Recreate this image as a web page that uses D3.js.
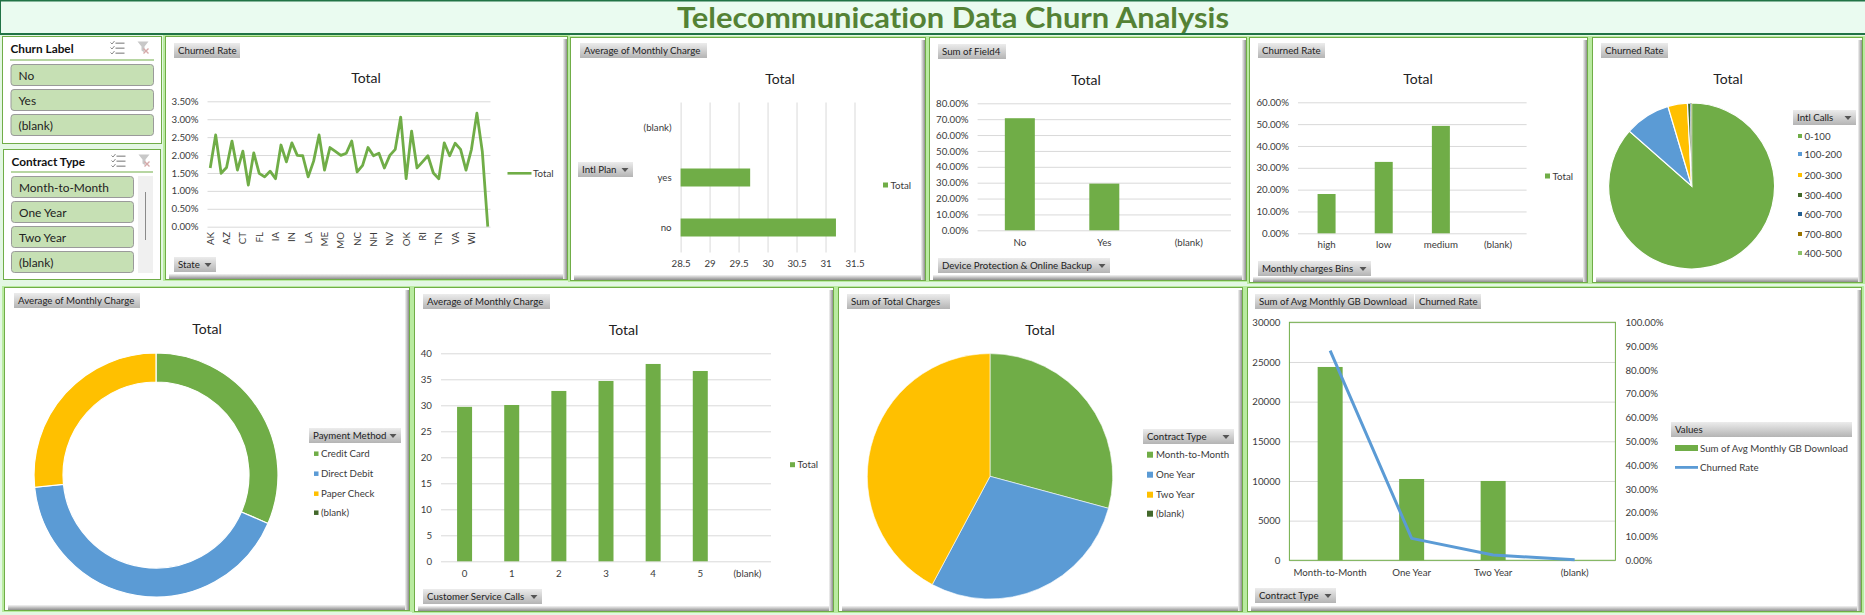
<!DOCTYPE html>
<html><head><meta charset="utf-8">
<style>
html,body{margin:0;padding:0;background:#E3F7E3;overflow:hidden}
svg{display:block}
text{font-family:Lato,"Open Sans",sans-serif;fill:#333;font-variant-ligatures:none}
</style>
<script src="https://cdn.jsdelivr.net/npm/d3@7/dist/d3.min.js"></script>
</head><body><svg id="c" width="1865" height="615"></svg>
<script>
const dashTitle = "Telecommunication Data Churn Analysis";
const churnLabels = ["No","Yes","(blank)"];
const contractSlicer = ["Month-to-Month","One Year","Two Year","(blank)"];

const states = ["AK","AL","AR","AZ","CA","CO","CT","DC","DE","FL","GA","HI","IA","ID","IL","IN","KS","KY","LA","MA","MD","ME","MI","MN","MO","MS","MT","NC","ND","NE","NH","NJ","NM","NV","NY","OH","OK","OR","PA","RI","SC","SD","TN","TX","UT","VA","VT","WA","WI","WV","WY","(blank)"];
const stateRate = [1.64,2.56,1.49,1.65,2.39,1.58,2.11,1.16,2.06,1.49,1.39,1.55,1.34,2.28,1.81,2.34,1.99,1.98,1.39,1.83,2.56,1.58,2.21,2.10,1.99,2.05,2.39,1.53,1.71,2.21,1.98,2.05,1.64,1.99,2.16,3.06,1.34,2.67,1.64,1.81,1.98,1.50,1.34,2.34,1.98,2.33,2.16,1.58,2.16,3.17,2.09,0];
const stateTickLabels = ["AK","AZ","CT","FL","IA","IN","LA","ME","MO","NC","NH","NV","OK","RI","TN","VA","WI"];
const rateTicks = [0,0.5,1,1.5,2,2.5,3,3.5];

const intlPlans = ["(blank)","yes","no"];
const intlPlanCharge = [null,29.70,31.18];
const chargeTicks = [28.5,29,29.5,30,30.5,31,31.5];

const deviceCats = ["No","Yes","(blank)"];
const deviceVals = [70.6,29.4,null];
const deviceTicks = [0,10,20,30,40,50,60,70,80];

const binCats = ["high","low","medium","(blank)"];
const binVals = [18.0,32.7,49.2,null];
const binTicks = [0,10,20,30,40,50,60];

const intlCalls = ["0-100","100-200","200-300","300-400","600-700","700-800","400-500"];
const intlCallVals = [86.5,8.9,3.8,0.6,0.08,0.06,0.06];
const intlCallColors = ["#70AD47","#5B9BD5","#FFC000","#43682B","#255E91","#997300","#8CC168"];

const payMethods = ["Credit Card","Direct Debit","Paper Check","(blank)"];
const payVals = [31.5,41.9,26.6,0];
const contractNames = ["Month-to-Month","One Year","Two Year","(blank)"];
const contractCharges = [29.2,28.6,42.2,0];
const pieColors = ["#70AD47","#5B9BD5","#FFC000","#43682B"];

const serviceCalls = ["0","1","2","3","4","5","(blank)"];
const serviceVals = [29.7,30.06,32.76,34.68,37.95,36.6,null];
const serviceTicks = [0,5,10,15,20,25,30,35,40];

const comboCats = ["Month-to-Month","One Year","Two Year","(blank)"];
const comboGB = [24370,10250,10000,null];
const comboRate = [88.1,9.2,2.2,0.2];
const gbTicks = [0,5000,10000,15000,20000,25000,30000];
const pctTicks = [0,10,20,30,40,50,60,70,80,90,100];

const GREEN="#70AD47", BLUE="#5B9BD5", GRID="#D9D9D9", TICK="#3a3a3a", FS=9.7;
const svg=d3.select("#c");
const defs=svg.append("defs");
function grad(id,a,b,h){const g=defs.append("linearGradient").attr("id",id);
  if(h)g.attr("x1",0).attr("x2",1).attr("y1",0).attr("y2",0);else g.attr("x1",0).attr("x2",0).attr("y1",0).attr("y2",1);
  g.append("stop").attr("offset",0).attr("stop-color",a);g.append("stop").attr("offset",1).attr("stop-color",b);}
grad("btn","#ECECEC","#B4B4B4");
grad("shB","#F4F4F4","#8E8E8E");
grad("shR","#F4F4F4","#8E8E8E",true);

// title bar
svg.append("rect").attr("x",0).attr("y",0).attr("width",1865).attr("height",34).attr("fill","#EAFBF0");
svg.append("rect").attr("x",0).attr("y",0).attr("width",1865).attr("height",1.5).attr("fill","#217346");
svg.append("rect").attr("x",0).attr("y",0).attr("width",1).attr("height",34).attr("fill","#217346");
svg.append("rect").attr("x",0).attr("y",33).attr("width",1865).attr("height",2).attr("fill","#217346");
svg.append("text").attr("x",953).attr("y",28).attr("text-anchor","middle").attr("font-size",28).attr("font-weight",700)
  .attr("textLength",552).attr("lengthAdjust","spacingAndGlyphs")
  .style("fill","#548235").text(dashTitle);

function panel(x0,y0,x1,y1){
  const g=svg.append("g");
  g.append("rect").attr("x",x0-2).attr("y",y0-1).attr("width",x1-x0+4).attr("height",y1-y0+2).attr("fill","#B9EBA0");
  g.append("rect").attr("x",x0+.5).attr("y",y0+.5).attr("width",x1-x0-1).attr("height",y1-y0-1).attr("fill","#fff").attr("stroke",GREEN);
  g.append("rect").attr("x",x0+4).attr("y",y1-6).attr("width",x1-x0-5).attr("height",5).attr("fill","url(#shB)");
  g.append("rect").attr("x",x1-5).attr("y",y0+3).attr("width",4).attr("height",y1-y0-4).attr("fill","url(#shR)");
  return g;
}
function btn(x0,y0,x1,label,arrow){
  const g=svg.append("g");
  g.append("rect").attr("x",x0).attr("y",y0).attr("width",x1-x0).attr("height",15).attr("fill","url(#btn)");
  g.append("text").attr("x",x0+4).attr("y",y0+11.2).attr("font-size",FS).style("fill","#222").text(label);
  if(arrow){const c=x1-8;g.append("path").attr("d",`M${c-3.5},${y0+6}h7l-3.5,4z`).attr("fill","#555");}
}
function chartTitle(x,y){svg.append("text").attr("x",x).attr("y",y+5).attr("text-anchor","middle").attr("font-size",14).style("fill","#222").text("Total");}
function legendRow(x,y,label,color,s=5){
  svg.append("rect").attr("x",x).attr("y",y-s/2).attr("width",s).attr("height",s).attr("fill",color);
  svg.append("text").attr("x",x+s+(s>=6?3:2.5)).attr("y",y+3.5).attr("font-size",FS).style("fill",TICK).text(label);
}
function styleAxis(a,fs=FS){
  a.select(".domain").remove();
  a.selectAll(".tick line").attr("stroke",GRID).attr("stroke-width",1);
  a.selectAll("text").attr("font-size",fs).style("fill",TICK).style("font-family","Lato,sans-serif");
}
function valueGrid(x0,x1,y,ticks,fmt){
  const a=svg.append("g").attr("transform",`translate(${x0},0)`).call(d3.axisLeft(y).tickValues(ticks).tickFormat(fmt).tickSize(-(x1-x0)).tickPadding(9));
  styleAxis(a);return a;
}
function catLabels(band,yPos,cats){
  const a=svg.append("g").attr("transform",`translate(0,${yPos})`).call(d3.axisBottom(band).tickValues(cats).tickSize(0).tickPadding(0));
  styleAxis(a);return a;
}
function columnChart(cats,vals,band,y,w){
  svg.append("g").selectAll("rect").data(cats.map((c,i)=>({c,v:vals[i]})).filter(d=>d.v!=null)).join("rect")
    .attr("x",d=>band(d.c)+band.bandwidth()/2-w/2).attr("width",w)
    .attr("y",d=>y(d.v)).attr("height",d=>y(0)-y(d.v)).attr("fill",GREEN);
}
const pct=d=>d3.format(".2f")(d)+"%";

// slicers
function slicer(x0,y0,x1,y1,title,items,bx0,bx1,by,ux0,ux1,uy,tx,ty){
  const g=svg.append("g");
  g.append("rect").attr("x",x0+.5).attr("y",y0+.5).attr("width",x1-x0-1).attr("height",y1-y0-1).attr("fill","#fff").attr("stroke",GREEN).attr("stroke-width",1);
  g.append("text").attr("x",tx).attr("y",ty).attr("font-size",11.8).attr("font-weight",700).style("fill","#111").text(title);
  g.append("rect").attr("x",ux0).attr("y",uy).attr("width",ux1-ux0).attr("height",1).attr("fill",GREEN);
  items.forEach((t,i)=>{
    g.append("rect").attr("x",bx0+.5).attr("y",by+i*25+.5).attr("width",bx1-bx0).attr("height",21).attr("rx",3).attr("fill","#C6E0B4").attr("stroke","#9a9a9a");
    g.append("text").attr("x",bx0+8).attr("y",by+i*25+15.5).attr("font-size",11.9).style("fill","#222").text(t);
  });
  // multi-select icon
  const ix=tx+100, iy=ty-11;
  [0,5,10].forEach(d=>{
    g.append("rect").attr("x",ix+5).attr("y",iy+d+1).attr("width",9).attr("height",1.4).attr("fill","#9b9b9b");
    g.append("path").attr("d",`M${ix},${iy+d+1}l1.5,1.5l2.5,-3`).attr("fill","none").attr("stroke","#8a8a8a");
  });
  // clear filter icon
  const fx=tx+127;
  g.append("path").attr("d",`M${fx},${iy}h11l-4,5v6l-3,-2v-4z`).attr("fill","#c8c8c8");
  g.append("path").attr("d",`M${fx+6},${iy+7}l5,5m0,-5l-5,5`).attr("stroke","#d5a9a9").attr("stroke-width",1.4);
}
slicer(2,36,162,144,"Churn Label",churnLabels,10.5,153,64,10,154,59.5,10.5,52.5);
slicer(3,149,161,280,"Contract Type",contractSlicer,11,133,176,11,153,171.5,11.5,165.5);
svg.append("rect").attr("x",138).attr("y",176).attr("width",15).attr("height",97).attr("fill","#F0F0F0");
svg.append("rect").attr("x",145).attr("y",192).attr("width",1).attr("height",48).attr("fill","#8a8a8a");

// Chart 1: churn by state
panel(165,36,568,280);
btn(174,43,240,"Churned Rate");
chartTitle(366,78);
{
  const x=d3.scaleBand().domain(states).range([207.5,490.5]);
  const y=d3.scaleLinear().domain([0,3.5]).range([226.7,101.3]);
  valueGrid(207.5,490.5,y,rateTicks,pct);
  const a=svg.append("g").attr("transform","translate(0,232)").call(d3.axisBottom(x).tickValues(stateTickLabels).tickSize(0).tickPadding(0));
  styleAxis(a);
  a.selectAll("text").attr("transform","rotate(-90)").attr("text-anchor","end").attr("x",0).attr("y",0).attr("dy","0.35em");
  svg.append("path").datum(states.map((s,i)=>[s,stateRate[i]]))
    .attr("fill","none").attr("stroke",GREEN).attr("stroke-width",2.8).attr("stroke-linejoin","round")
    .attr("d",d3.line().x(d=>x(d[0])+x.bandwidth()/2).y(d=>y(d[1])));
  svg.append("rect").attr("x",507.5).attr("y",172).attr("width",24).attr("height",2.6).attr("fill",GREEN);
  svg.append("text").attr("x",533).attr("y",176.5).attr("font-size",FS).style("fill",TICK).text("Total");
  btn(174,257,216,"State",true);
}

// Chart 2: Intl plan
panel(570,37,926,281);
btn(580,43,707,"Average of Monthly Charge");
chartTitle(780,79);
{
  const x=d3.scaleLinear().domain([28.5,31.5]).range([680.6,854.5]);
  const y=d3.scaleBand().domain(intlPlans).range([102.5,252.5]);
  const a=svg.append("g").attr("transform","translate(0,252.5)").call(d3.axisBottom(x).tickValues(chargeTicks).tickFormat(d=>d).tickSize(-150).tickPadding(7.5));
  styleAxis(a);
  const b=svg.append("g").attr("transform","translate(680.6,0)").call(d3.axisLeft(y).tickSize(0).tickPadding(9));
  styleAxis(b);
  svg.append("g").selectAll("rect").data(intlPlans.map((c,i)=>({c,v:intlPlanCharge[i]})).filter(d=>d.v!=null)).join("rect")
    .attr("x",x(28.5)).attr("width",d=>x(d.v)-x(28.5)).attr("y",d=>y(d.c)+y.bandwidth()/2-9).attr("height",18).attr("fill",GREEN);
  btn(578,162,633,"Intl Plan",true);
  legendRow(883,185,"Total",GREEN);
}

// Chart 3: device protection
panel(929,37,1247,281);
btn(938,44,1006,"Sum of Field4");
chartTitle(1086,80);
{
  const x=d3.scaleBand().domain(deviceCats).range([977.6,1231]);
  const y=d3.scaleLinear().domain([0,80]).range([230.3,103.3]);
  valueGrid(977.6,1231,y,deviceTicks,pct);
  columnChart(deviceCats,deviceVals,x,y,30);
  catLabels(x,239,deviceCats);
  btn(938,258,1110,"Device Protection & Online Backup",true);
}

// Chart 4: monthly charges bins
panel(1249,37,1588,283);
btn(1258,43,1325,"Churned Rate");
chartTitle(1418,79);
{
  const x=d3.scaleBand().domain(binCats).range([1298,1526.6]);
  const y=d3.scaleLinear().domain([0,60]).range([233.3,102.3]);
  valueGrid(1298,1526.6,y,binTicks,pct);
  columnChart(binCats,binVals,x,y,18);
  catLabels(x,241,binCats);
  btn(1258,261,1371,"Monthly charges Bins",true);
  legendRow(1545,176,"Total",GREEN);
}

function pie(cx,cy,r,inner,vals,colors,sw){
  const arcs=d3.pie().sort(null)(vals);
  svg.append("g").attr("transform",`translate(${cx},${cy})`).selectAll("path").data(arcs).join("path")
    .attr("d",d3.arc().innerRadius(inner).outerRadius(r)).attr("fill",(d,i)=>colors[i]).attr("stroke","#fff").attr("stroke-width",d=>d.value>0.5?sw:0);
}

// Chart 5: intl calls pie
panel(1592,37,1863,283);
btn(1601,43,1668,"Churned Rate");
chartTitle(1728,79);
pie(1691.6,186,83,0,intlCallVals,intlCallColors,1.2);
btn(1793,110,1856,"Intl Calls",true);
[136,154,175,195,214,234,253].forEach((yy,i)=>legendRow(1798,yy,intlCalls[i],intlCallColors[i],4));

// Chart 6: donut
panel(4,287,410,611);
btn(14,293,140,"Average of Monthly Charge");
chartTitle(207,329);
pie(156,475,122,93,payVals,pieColors,1.2);
btn(309,428,401,"Payment Method",true);
[453.7,473.7,493.7,512.7].forEach((yy,i)=>legendRow(314,yy,payMethods[i],pieColors[i],4.5));

// Chart 7: service calls
panel(414,287,834,612);
btn(423,294,550,"Average of Monthly Charge");
chartTitle(623.5,330);
{
  const x=d3.scaleBand().domain(serviceCalls).range([441,771]);
  const y=d3.scaleLinear().domain([0,40]).range([561.3,353.3]);
  valueGrid(441,771,y,serviceTicks,d=>d);
  columnChart(serviceCalls,serviceVals,x,y,15);
  catLabels(x,570,serviceCalls);
  btn(423,589,542,"Customer Service Calls",true);
  legendRow(790,464.7,"Total",GREEN);
}

// Chart 8: contract pie
panel(838,287,1243,612);
btn(847,294,950,"Sum of Total Charges");
chartTitle(1040,330);
pie(990,476.3,122.7,0,contractCharges,pieColors,0.6);
btn(1143,429,1234,"Contract Type",true);
[454.7,474.7,494.7,513.7].forEach((yy,i)=>legendRow(1147,yy,contractNames[i],pieColors[i],6));

// Chart 9: combo
panel(1247,287,1862,612);
btn(1255,294,1414,"Sum of Avg Monthly GB Download");
btn(1415,294,1481,"Churned Rate");
{
  const x=d3.scaleBand().domain(comboCats).range([1289.4,1615.4]);
  const y=d3.scaleLinear().domain([0,30000]).range([560.3,322.3]);
  const yr=d3.scaleLinear().domain([0,100]).range([560.3,322.3]);
  valueGrid(1289.4,1615.4,y,gbTicks,d=>d);
  const ra=svg.append("g").attr("transform","translate(1615.4,0)").call(d3.axisRight(yr).tickValues(pctTicks).tickFormat(pct).tickSize(0).tickPadding(10));
  styleAxis(ra);
  columnChart(comboCats,comboGB,x,y,25);
  svg.append("rect").attr("x",1289.4).attr("y",322.3).attr("width",326).attr("height",238).attr("fill","none").attr("stroke",GREEN).attr("stroke-width",1);
  svg.append("path").datum(comboCats.map((c,i)=>[c,comboRate[i]])).attr("fill","none").attr("stroke",BLUE).attr("stroke-width",3).attr("stroke-linejoin","round")
    .attr("d",d3.line().x(d=>x(d[0])+x.bandwidth()/2).y(d=>yr(d[1])));
  catLabels(x,569,comboCats);
  btn(1255,588,1336,"Contract Type",true);
  btn(1671,422,1852,"Values");
  svg.append("rect").attr("x",1675).attr("y",445).attr("width",23).attr("height",6).attr("fill",GREEN);
  svg.append("text").attr("x",1700).attr("y",451.5).attr("font-size",FS).style("fill",TICK).text("Sum of Avg Monthly GB Download");
  svg.append("rect").attr("x",1675).attr("y",466).attr("width",23).attr("height",2.8).attr("fill",BLUE);
  svg.append("text").attr("x",1700).attr("y",470.5).attr("font-size",FS).style("fill",TICK).text("Churned Rate");
}
</script></body></html>
